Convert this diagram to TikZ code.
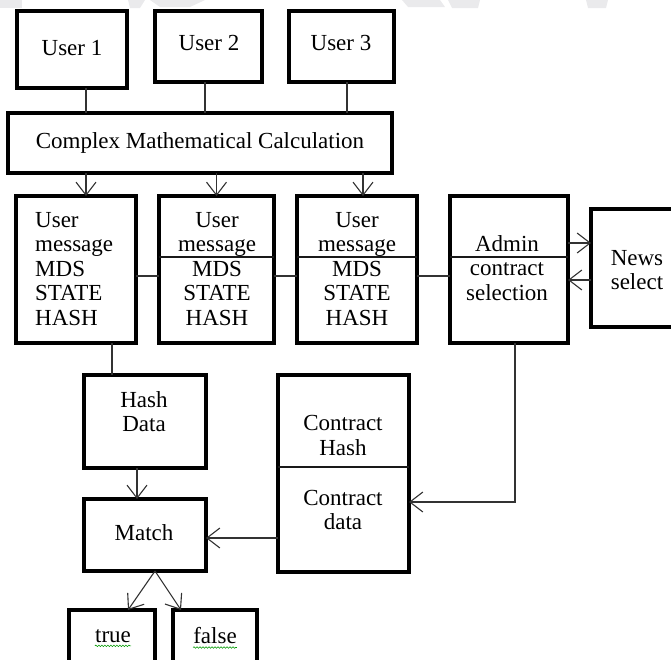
\documentclass[tikz,border=0pt]{standalone}
\usepackage{fontspec}
\setmainfont{Liberation Serif}
\usetikzlibrary{arrows.meta,decorations.pathmorphing}
\begin{document}
\begin{tikzpicture}[x=1pt,y=-1pt,
  box/.style={draw=black,line width=4.2pt,rectangle,inner sep=0pt,outer sep=0pt},
  lbl/.style={font=\fontsize{23}{24.5}\selectfont,inner sep=0pt,align=center},
  conn/.style={draw=black!80,line width=1.1pt},
  arr/.style={conn,-{Straight Barb[length=13pt,width=20pt,line width=1.1pt]}},
  divider/.style={draw=black!90,line width=1.1pt},
  wm/.style={fill=blue!5!gray!16,draw=none},
  squig/.style={draw=green!60!black,line width=0.6pt,decorate,decoration={snake,amplitude=0.8pt,segment length=3pt}}]
\useasboundingbox (0,0) rectangle (671,659);
\clip (0,0) rectangle (671,659);
% faint watermark at top
\fill[wm] (0,0) rectangle (22,8);
\fill[wm] (128,0) -- (145,0) -- (140,8) -- (130,8) -- cycle;
\fill[wm] (150,0) -- (205,0) -- (190,7) -- (160,7) -- cycle;
\fill[wm] (402,0) -- (440,0) -- (445,7) -- (408,7) -- cycle;
\fill[wm] (448,0) -- (480,0) -- (478,8) -- (452,8) -- cycle;
\fill[wm] (586,0) -- (608,0) -- (606,8) -- (588,8) -- cycle;
% users
\node[box,minimum width=110pt,minimum height=77pt] (u1) at (72,49.5) {};
\node[lbl] (t1) at (72,48) {User 1};
\node[box,minimum width=107pt,minimum height=71pt] (u2) at (208.5,46.5) {};
\node[lbl] (t2) at (209,43) {User 2};
\node[box,minimum width=105pt,minimum height=71pt] (u3) at (341.5,46.5) {};
\node[lbl] (t3) at (341,43) {User 3};
% complex
\node[box,minimum width=384pt,minimum height=60pt] (cmc) at (200,143) {};
\node[lbl] (tc) at (200,143) {Complex Mathematical Calculation};
% row boxes
\node[box,minimum width=120pt,minimum height=147pt] (b1) at (76,269.5) {};
\node[lbl,align=left,anchor=west] (tb1) at (35,269) {User\\message\\MDS\\STATE\\HASH};
\node[box,minimum width=115pt,minimum height=147pt] (b2) at (216.5,269.5) {};
\node[lbl] (tb2) at (217,269) {User\\message\\MDS\\STATE\\HASH};
\node[box,minimum width=120pt,minimum height=147pt] (b3) at (357,269.5) {};
\node[lbl] (tb3) at (357,269) {User\\message\\MDS\\STATE\\HASH};
\node[box,minimum width=118pt,minimum height=147pt] (ad) at (509,269.5) {};
\node[lbl] (tad) at (507,268) {Admin\\contract\\selection};
\draw[divider] (b2.west |- 0,257) -- (b2.east |- 0,257);
\draw[divider] (b3.west |- 0,257) -- (b3.east |- 0,257);
\draw[divider] (ad.west |- 0,257) -- (ad.east |- 0,257);
% news
\node[box,minimum width=100pt,minimum height=118pt] (ns) at (641,268) {};
\node[lbl] (tns) at (637,270) {News\\select};
% lower
\node[box,minimum width=122pt,minimum height=93pt] (hd) at (145,421.5) {};
\node[lbl] (thd) at (144,411.5) {Hash\\Data};
\node[box,minimum width=131pt,minimum height=197pt] (ct) at (343.5,473.5) {};
\draw[divider] (ct.west |- 0,467) -- (ct.east |- 0,467);
\node[lbl] (tct1) at (343,435.5) {Contract\\Hash};
\node[lbl] (tct2) at (343,510) {Contract\\data};
\node[box,minimum width=122pt,minimum height=72pt] (mt) at (145,535) {};
\node[lbl] (tmt) at (144,533) {Match};
\node[box,minimum width=86pt,minimum height=80pt] (tr) at (112,650) {};
\node[lbl] (ttr) at (113,636) {true};
\node[box,minimum width=84pt,minimum height=80pt] (fl) at (215,650) {};
\node[lbl] (tfl) at (215,636) {false};
\draw[squig] ([yshift=-3.5pt]ttr.base west) -- ([yshift=-3.5pt]ttr.base east);
\draw[squig] ([yshift=-3.5pt]tfl.base west) -- ([yshift=-3.5pt]tfl.base east);
% connectors
\draw[conn] ([xshift=14pt]u1.south) -- ([xshift=14pt]u1.south |- cmc.north);
\draw[conn] ([xshift=-3.5pt]u2.south) -- ([xshift=-3.5pt]u2.south |- cmc.north);
\draw[conn] ([xshift=5.5pt]u3.south) -- ([xshift=5.5pt]u3.south |- cmc.north);
\draw[arr] ([xshift=10pt]b1.north |- cmc.south) -- ([xshift=10pt]b1.north);
\draw[arr] (b2.north |- cmc.south) -- (b2.north);
\draw[arr] ([xshift=6pt]b3.north |- cmc.south) -- ([xshift=6pt]b3.north);
\draw[conn] ([yshift=-6.5pt]b1.east) -- ([yshift=-6.5pt]b2.west);
\draw[conn] ([yshift=-6.5pt]b2.east) -- ([yshift=-6.5pt]b3.west);
\draw[conn] ([yshift=-6.5pt]b3.east) -- ([yshift=-6.5pt]ad.west);
\draw[arr] ([yshift=26.5pt]ad.east) -- ([yshift=26.5pt]ad.east -| ns.west);
\draw[arr] ([yshift=-10.5pt]ad.east -| ns.west) -- ([yshift=-10.5pt]ad.east);
\draw[conn] ([xshift=36pt]b1.south) -- ([xshift=36pt]b1.south |- hd.north);
\coordinate (bend) at ([xshift=6pt]ad.south |- 0,502);
\draw[arr] ([xshift=6pt]ad.south) -- (bend) -- (bend -| ct.east);
\draw[arr] ([xshift=-8pt]hd.south) -- ([xshift=-8pt]hd.south |- mt.north);
\draw[arr] ([yshift=-3pt]ct.west |- mt.east) -- ([yshift=-3pt]mt.east);
\draw[arr] ([xshift=10pt]mt.south) -- ([xshift=16pt]tr.north);
\draw[arr] ([xshift=10pt]mt.south) -- ([xshift=-34pt]fl.north);
\end{tikzpicture}
\end{document}
